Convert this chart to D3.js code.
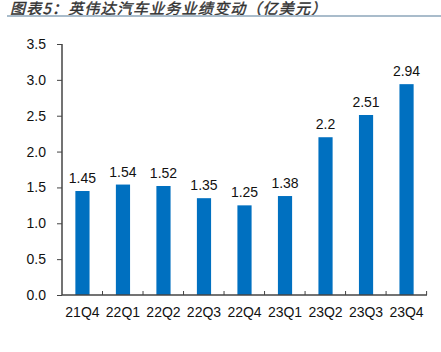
<!DOCTYPE html>
<html>
<head>
<meta charset="utf-8">
<script src="https://cdn.jsdelivr.net/npm/d3@7"></script>
<style>
  body { margin: 0; background: #fff; }
  svg { display: block; font-family: "Liberation Sans", Arial, sans-serif; }
</style>
</head>
<body>
<svg id="chart" width="441" height="352"></svg>
<script>
const quarters = ["21Q4", "22Q1", "22Q2", "22Q3", "22Q4", "23Q1", "23Q2", "23Q3", "23Q4"];
const revenue = [1.45, 1.54, 1.52, 1.35, 1.25, 1.38, 2.2, 2.51, 2.94];
const valueLabels = ["1.45", "1.54", "1.52", "1.35", "1.25", "1.38", "2.2", "2.51", "2.94"];
const yTicks = [0, 0.5, 1, 1.5, 2, 2.5, 3, 3.5];

const svg = d3.select("#chart");
const margin = { top: 44, left: 62, right: 14, bottom: 57 };
const width = 441, height = 352;

// title + rule under it
svg.append("text")
    .attr("x", 10).attr("y", 14)
    .attr("font-family", "'Noto Sans CJK SC', sans-serif")
    .attr("font-size", 15).attr("font-style", "italic")
    .attr("letter-spacing", 1.2)
    .attr("fill", "#333")
    .attr("stroke", "#333").attr("stroke-width", 0.4)
    .text("图表5：英伟达汽车业务业绩变动（亿美元）");
svg.append("line")
    .attr("x1", 7).attr("x2", width).attr("y1", 16).attr("y2", 16)
    .attr("stroke", "#a9bccb").attr("stroke-width", 2);

const x = d3.scaleBand().domain(quarters)
    .range([margin.left, width - margin.right]).paddingInner(0.65).paddingOuter(0.33);
const y = d3.scaleLinear().domain([0, 3.5]).range([height - margin.bottom, margin.top]);

svg.selectAll(".bar")
    .data(revenue)
    .join("rect")
    .attr("class", "bar")
    .attr("x", (d, i) => x(quarters[i]))
    .attr("width", x.bandwidth())
    .attr("y", d => y(d))
    .attr("height", d => y(0) - y(d))
    .attr("fill", "#0070c0");

svg.selectAll(".val")
    .data(revenue)
    .join("text")
    .attr("class", "val")
    .attr("x", (d, i) => x(quarters[i]) + x.bandwidth() / 2)
    .attr("y", d => y(d) - 8)
    .attr("text-anchor", "middle")
    .attr("font-size", 14)
    .attr("fill", "#111")
    .text((d, i) => valueLabels[i]);

// y axis
const yAxis = svg.append("g")
    .attr("transform", `translate(${margin.left},0)`)
    .call(d3.axisLeft(y).tickValues(yTicks).tickFormat(d3.format(".1f")).tickSize(5).tickPadding(11));
yAxis.select(".domain").attr("stroke", "#444").attr("stroke-width", 1.5).attr("d", `M0,${y(0)}V${y(3.5)}`);
yAxis.selectAll(".tick line").attr("stroke", "#444");
yAxis.selectAll(".tick text").attr("font-size", 14).attr("fill", "#111");

// x axis with inward ticks at band edges
const xg = svg.append("g").attr("transform", `translate(0,${y(0)})`);
xg.append("line")
    .attr("x1", margin.left).attr("x2", width - margin.right)
    .attr("stroke", "#444").attr("stroke-width", 1.5);
const step = x.step();
const edges = quarters.map((q, i) => margin.left + step * (i + 1));
xg.selectAll(".xt").data(edges).join("line")
    .attr("x1", d => d).attr("x2", d => d).attr("y1", 0).attr("y2", -4)
    .attr("stroke", "#444");
xg.selectAll(".xl").data(quarters).join("text")
    .attr("x", d => x(d) + x.bandwidth() / 2)
    .attr("y", 22)
    .attr("text-anchor", "middle")
    .attr("font-size", 14).attr("fill", "#111")
    .text(d => d);
</script>
</body>
</html>
